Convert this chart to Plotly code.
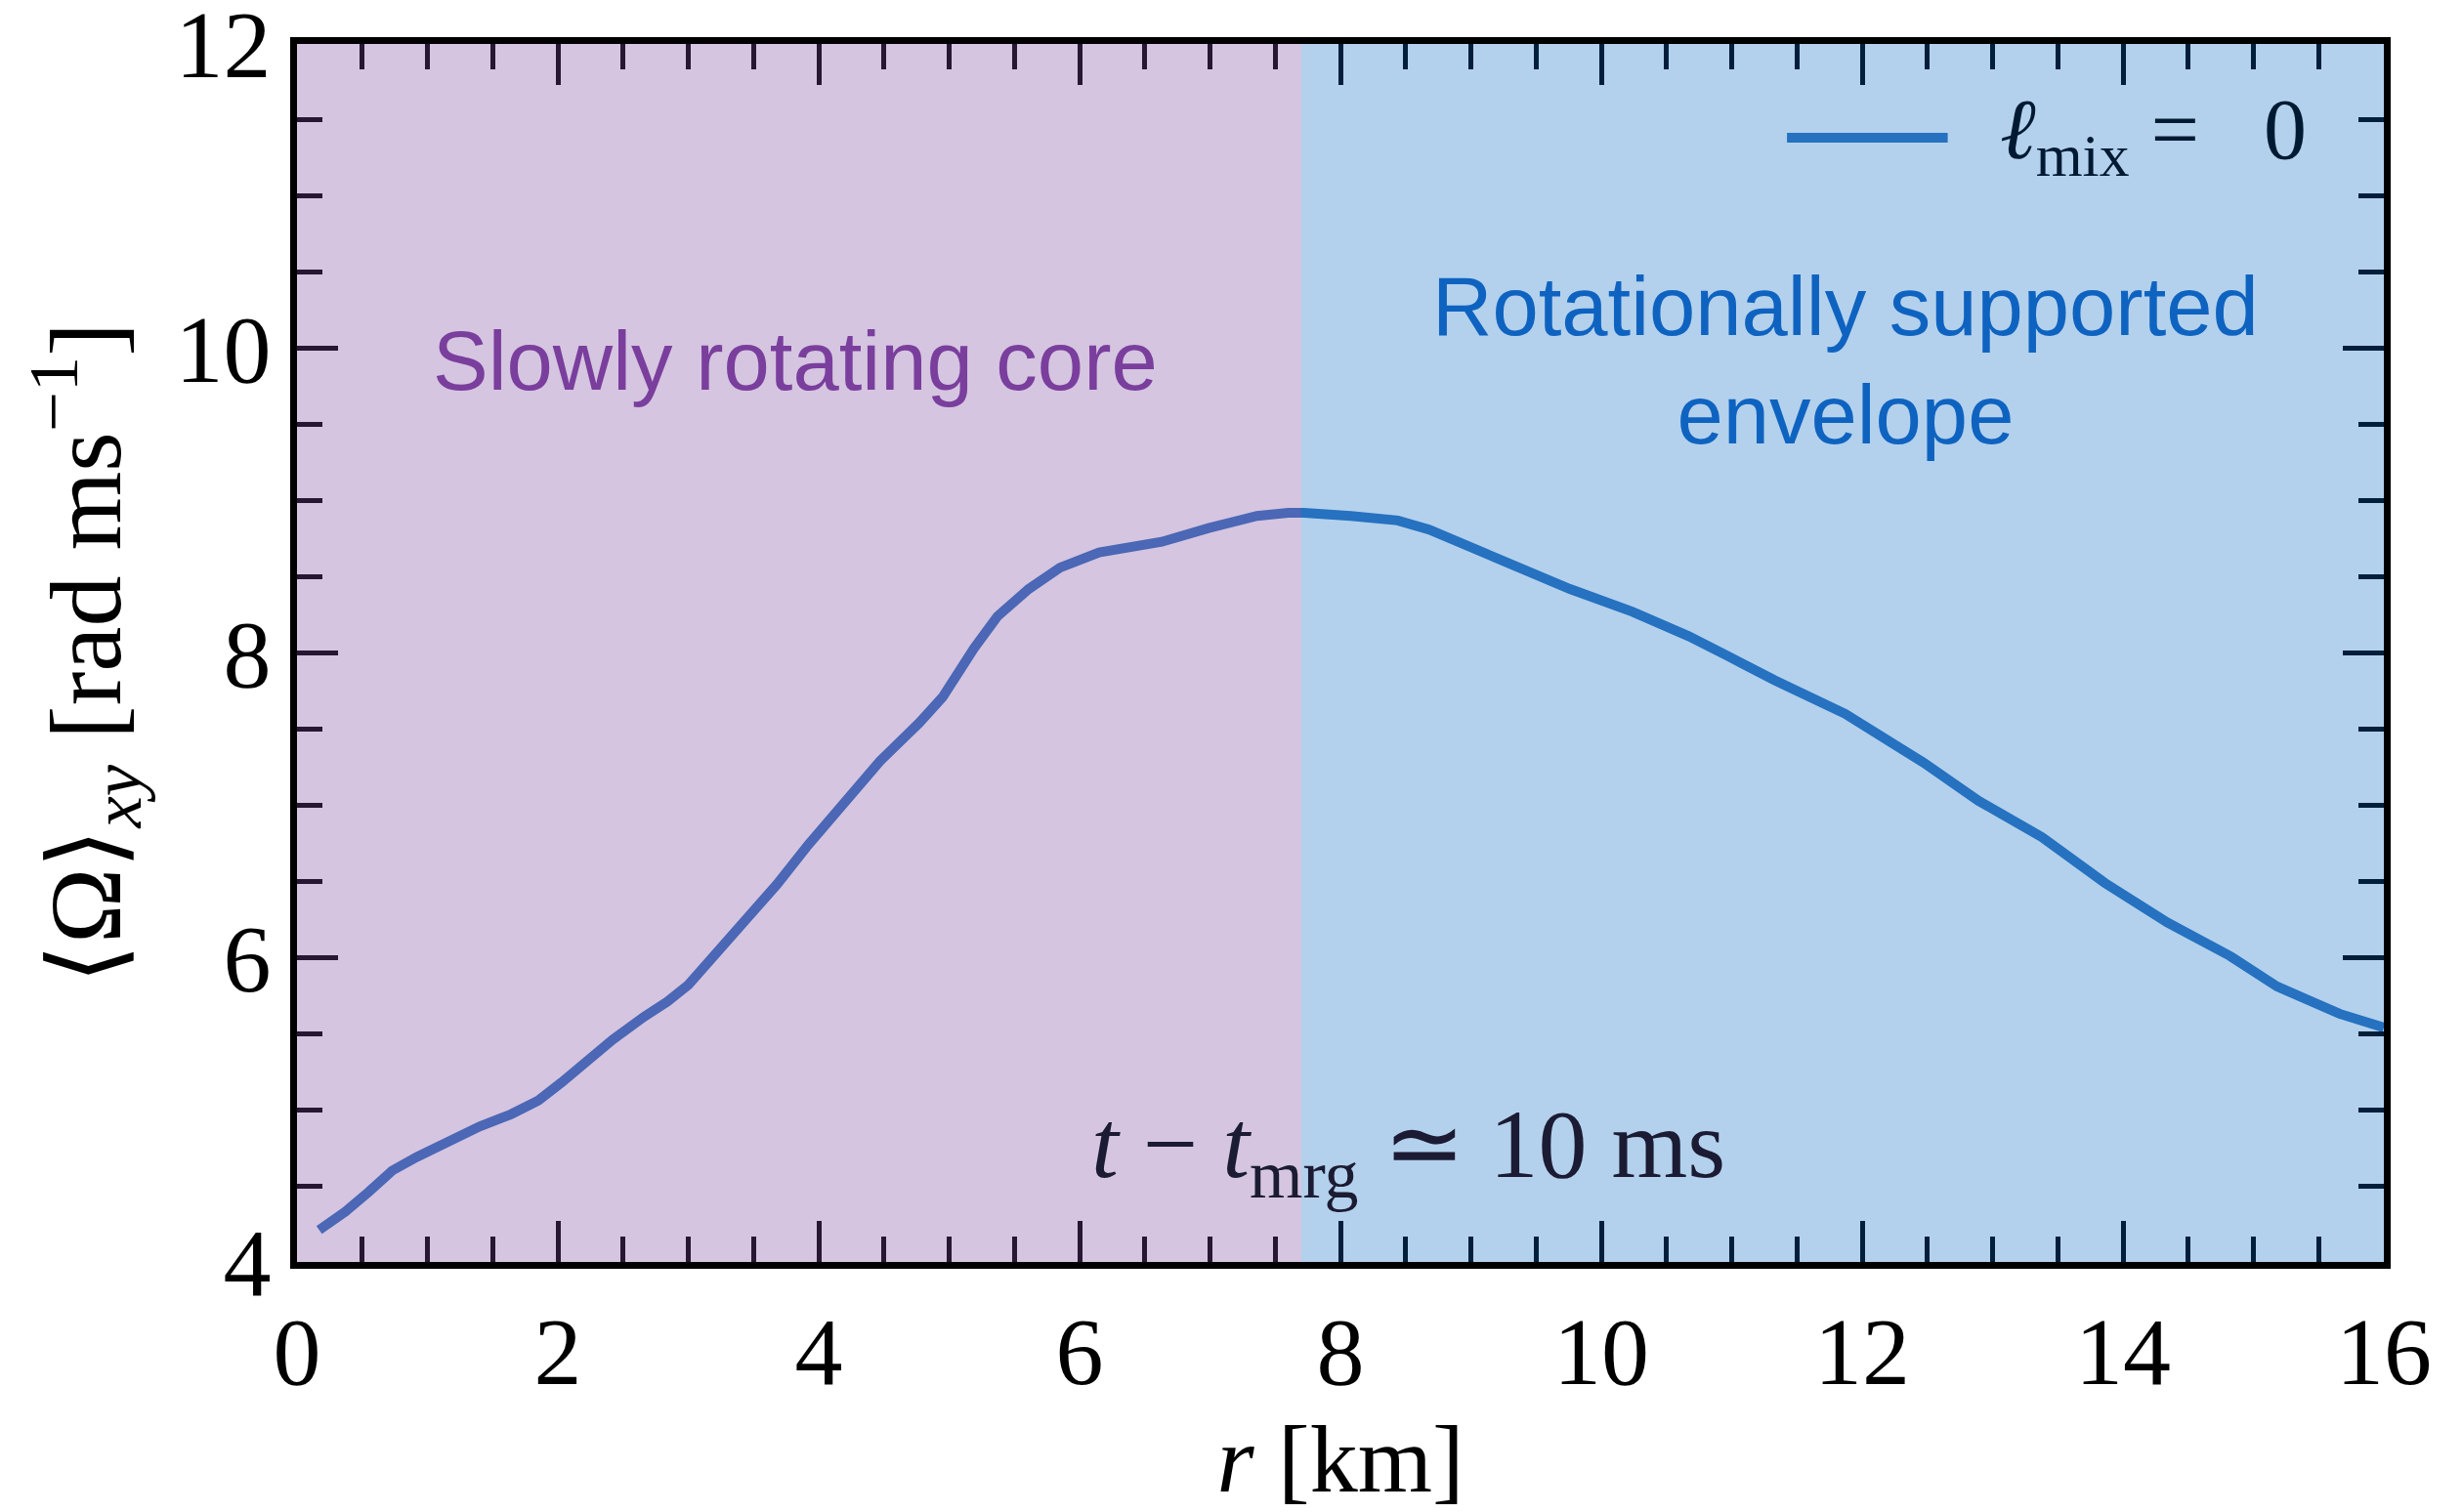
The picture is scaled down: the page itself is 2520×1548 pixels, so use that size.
import plotly.graph_objects as go

# Mean angular velocity profile in the equatorial plane
r_km = [0.17, 0.37, 0.55, 0.73, 0.92, 1.16, 1.40, 1.64, 1.85, 2.03, 2.24, 2.42,
        2.66, 2.84, 3.00, 3.20, 3.44, 3.68, 3.92, 4.23, 4.47, 4.77, 4.95, 5.19,
        5.37, 5.61, 5.85, 6.15, 6.63, 6.99, 7.36, 7.60, 7.72, 8.08, 8.44, 8.68,
        8.98, 9.28, 9.76, 10.24, 10.67, 10.97, 11.33, 11.87, 12.17, 12.47,
        12.89, 13.38, 13.86, 14.34, 14.82, 15.18, 15.66, 16.0]
omega_xy = [4.21, 4.33, 4.46, 4.60, 4.69, 4.79, 4.89, 4.97, 5.06, 5.18, 5.33, 5.46,
            5.61, 5.71, 5.82, 6.01, 6.25, 6.48, 6.74, 7.06, 7.29, 7.54, 7.71, 8.03,
            8.24, 8.42, 8.56, 8.66, 8.73, 8.82, 8.90, 8.92, 8.92, 8.90, 8.87, 8.81,
            8.70, 8.59, 8.42, 8.27, 8.11, 7.98, 7.82, 7.60, 7.44, 7.28,
            7.03, 6.79, 6.49, 6.23, 6.01, 5.81, 5.63, 5.54]

r_core_edge = 7.7          # boundary between core and envelope [km]
x_range = [0, 16]
y_range = [4, 12]
x_tick_step = 2
y_tick_step = 2
legend_label = "<i>ℓ</i><sub>mix</sub> =\u00a0\u00a0 0"

serif = "Liberation Serif"
sans = "Liberation Sans"
line_color = "rgb(53,118,192)"
line_width = 10

fig = go.Figure()
fig.add_trace(go.Scatter(
    x=r_km, y=omega_xy, mode="lines",
    line=dict(color=line_color, width=line_width),
    name=legend_label, showlegend=False,
))

# translucent region overlays (drawn above the curve and ticks)
fig.add_shape(type="rect", xref="x", yref="paper", x0=x_range[0], x1=r_core_edge,
              y0=0, y1=1, fillcolor="rgb(122,72,157)", opacity=0.317,
              line=dict(width=0), layer="above")
fig.add_shape(type="rect", xref="x", yref="paper", x0=r_core_edge, x1=x_range[1],
              y0=0, y1=1, fillcolor="rgb(2,102,192)", opacity=0.30,
              line=dict(width=0), layer="above")

# legend entry: line sample + label
fig.add_shape(type="line", xref="paper", yref="paper", x0=0.714, x1=0.791,
              y0=0.923, y1=0.923, line=dict(color="rgb(38,113,192)", width=line_width),
              layer="above")
fig.add_annotation(x=0.815, y=0.925, xref="paper", yref="paper", showarrow=False,
                   xanchor="left", yanchor="middle", text=legend_label,
                   font=dict(family=serif, size=88, color="#001A33"))

fig.add_annotation(x=3.82, y=9.92, xref="x", yref="y", showarrow=False,
                   text="Slowly rotating core",
                   font=dict(family=sans, size=85, color="#7A3E9D"))
fig.add_annotation(x=11.87, y=9.92, xref="x", yref="y", showarrow=False,
                   text="Rotationally supported<br>envelope",
                   font=dict(family=sans, size=85, color="#0F63C0"))
fig.add_annotation(x=8.52, y=4.73, xref="x", yref="y", showarrow=False,
                   text="<i>t</i> − <i>t</i><sub>mrg</sub> ≃ 10 ms",
                   font=dict(family=serif, size=100, color="#1B1B33"))

axis_common = dict(
    showline=True, linecolor="black", linewidth=7, mirror="ticks",
    ticks="inside", ticklen=42, tickwidth=5, tickcolor="black",
    showgrid=False, zeroline=False, ticklabeloverflow="allow", automargin=False,
    tickfont=dict(family=serif, size=98, color="black"),
)

fig.update_xaxes(range=x_range, tickmode="linear", tick0=0, dtick=x_tick_step,
                 minor=dict(ticks="inside", ticklen=26, tickwidth=5,
                            tickcolor="black", dtick=0.5, showgrid=False),
                 title=dict(text="<i>r</i> [km]", standoff=40,
                            font=dict(family=serif, size=98, color="black")),
                 **axis_common)
fig.update_yaxes(range=y_range, tickmode="linear",
                 tick0=y_range[0], dtick=y_tick_step,
                 minor=dict(ticks="inside", ticklen=26, tickwidth=5,
                            tickcolor="black", dtick=0.5, showgrid=False),
                 title=dict(text="⟨Ω⟩<sub><i>xy</i></sub> [rad ms<sup>−1</sup>]",
                            standoff=24,
                            font=dict(family=serif, size=104, color="black")),
                 **axis_common)

fig.update_layout(
    width=2520, height=1548,
    margin=dict(l=304, r=80, t=45, b=256),
    paper_bgcolor="white", plot_bgcolor="white",
    showlegend=False,
)

fig.write_html("out.html")
